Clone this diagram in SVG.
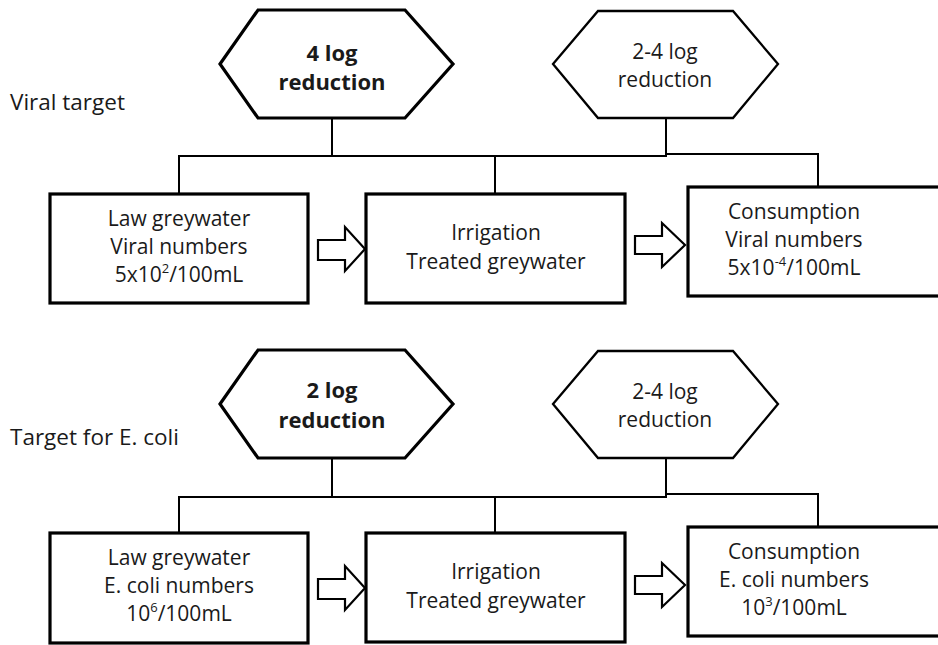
<svg xmlns="http://www.w3.org/2000/svg" width="938" height="645" viewBox="0 0 938 645">
<style>
  .bg{fill:#fff}
  .hexb{fill:#fff;stroke:#000;stroke-width:3.2;stroke-linejoin:miter}
  .hex{fill:#fff;stroke:#000;stroke-width:2.3;stroke-linejoin:miter}
  .box{fill:#fff;stroke:#000;stroke-width:3.2}
  .arr{fill:#fff;stroke:#000;stroke-width:2.2;stroke-linejoin:miter}
  .con{fill:none;stroke:#000;stroke-width:2}
  text{font-family:"Open Sans","Liberation Sans",sans-serif;font-size:21px;fill:#1a1a1a;text-anchor:middle}
  .b{font-weight:bold;font-size:22px}
  .lbl{text-anchor:start;font-size:22.5px}
  .sup{font-size:13px}
</style>
<rect class="bg" x="0" y="0" width="938" height="645"/>

<g id="connectors">
  <path class="con" d="M332,118 V156 M179,194 V156 H667 M495,156 V194 M666,118 V156 M666,154 H818 V187"/>
  <path class="con" d="M332,458 V497 M179,533 V497 H667 M495,497 V533 M666,458 V497 M666,494 H818 V527"/>
  <polygon class="arr" points="318,240 345,240 345,227 365,249 345,271 345,260 318,260"/>
  <polygon class="arr" points="635,236 662,236 662,223 685,245 662,267 662,254 635,254"/>
  <polygon class="arr" points="318,579 345,579 345,566 365,588 345,610 345,599 318,599"/>
  <polygon class="arr" points="635,576 662,576 662,563 685,585 662,607 662,594 635,594"/>
</g>

<g id="label-viral">
  <text class="lbl" x="10" y="110">Viral target</text>
</g>
<g id="label-ecoli">
  <text class="lbl" x="10" y="445">Target for E. coli</text>
</g>

<g id="hex-4log">
  <polygon class="hexb" points="220,64 258,10 405,10 453,64 405,118 258,118"/>
  <text class="b" x="332" y="61">4 log</text>
  <text class="b" x="332" y="90">reduction</text>
</g>
<g id="hex-24log-top">
  <polygon class="hex" points="553,64 598,11 733,11 778,64 733,118 598,118"/>
  <text x="665" y="59">2-4 log</text>
  <text x="665" y="87">reduction</text>
</g>

<g id="box-law-viral">
  <rect class="box" x="50" y="194" width="258" height="109"/>
  <text x="179" y="226">Law greywater</text>
  <text x="179" y="254">Viral numbers</text>
  <text x="179" y="282">5x10<tspan class="sup" dy="-9">2</tspan><tspan dy="9">/100mL</tspan></text>
</g>
<g id="box-irrigation-top">
  <rect class="box" x="366" y="194" width="259" height="109"/>
  <text x="496" y="240">Irrigation</text>
  <text x="496" y="269">Treated greywater</text>
</g>
<g id="box-consumption-top">
  <rect class="box" x="688" y="187" width="262" height="109"/>
  <text x="794" y="219">Consumption</text>
  <text x="794" y="247">Viral numbers</text>
  <text x="794" y="275">5x10<tspan class="sup" dy="-9">-4</tspan><tspan dy="9">/100mL</tspan></text>
</g>

<g id="hex-2log">
  <polygon class="hexb" points="220,404 258,350 405,350 453,404 405,458 258,458"/>
  <text class="b" x="332" y="398">2 log</text>
  <text class="b" x="332" y="428">reduction</text>
</g>
<g id="hex-24log-bottom">
  <polygon class="hex" points="553,404 598,351 733,351 778,404 733,458 598,458"/>
  <text x="665" y="399">2-4 log</text>
  <text x="665" y="427">reduction</text>
</g>

<g id="box-law-ecoli">
  <rect class="box" x="50" y="533" width="258" height="110"/>
  <text x="179" y="565">Law greywater</text>
  <text x="179" y="593">E. coli numbers</text>
  <text x="179" y="621">10<tspan class="sup" dy="-9">6</tspan><tspan dy="9">/100mL</tspan></text>
</g>
<g id="box-irrigation-bottom">
  <rect class="box" x="366" y="533" width="259" height="109"/>
  <text x="496" y="579">Irrigation</text>
  <text x="496" y="608">Treated greywater</text>
</g>
<g id="box-consumption-bottom">
  <rect class="box" x="688" y="527" width="262" height="109"/>
  <text x="794" y="559">Consumption</text>
  <text x="794" y="587">E. coli numbers</text>
  <text x="794" y="615">10<tspan class="sup" dy="-9">3</tspan><tspan dy="9">/100mL</tspan></text>
</g>
</svg>
